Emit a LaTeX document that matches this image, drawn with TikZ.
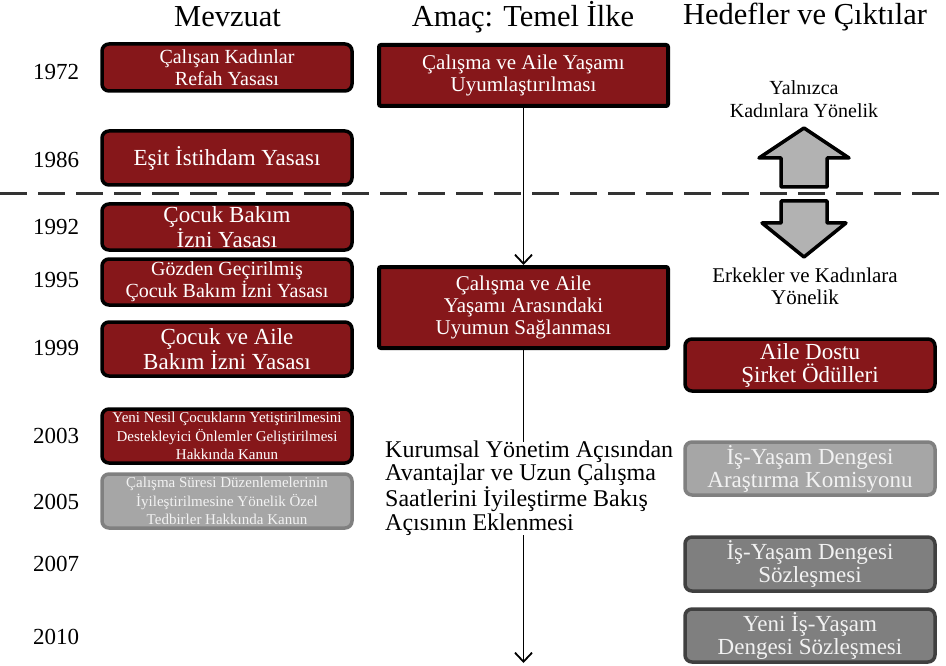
\documentclass[tikz,border=0pt]{standalone}
\usepackage{fontspec}
\setmainfont{Liberation Serif}
\usetikzlibrary{arrows.meta}
\definecolor{boxred}{RGB}{134,23,26}
\definecolor{lgfill}{RGB}{166,166,166}
\definecolor{lgdraw}{RGB}{128,128,128}
\definecolor{dgfill}{RGB}{127,127,127}
\definecolor{dgdraw}{RGB}{64,64,64}
\definecolor{arrfill}{RGB}{178,178,178}
\tikzset{
  redbox/.style={draw=black, line width=3.5pt, fill=boxred, rounded corners=7pt, text=white, align=center, inner sep=0pt},
  lgbox/.style={draw=lgdraw, line width=3.5pt, fill=lgfill, rounded corners=7pt, text=white!95!black, align=center, inner sep=0pt},
  dgbox/.style={draw=dgdraw, line width=3.5pt, fill=dgfill, rounded corners=7pt, text=white!95!black, align=center, inner sep=0pt},
  midbox/.style={draw=black, line width=4pt, fill=boxred, rounded corners=2pt, text=white, align=center, inner sep=0pt},
  header/.style={font=\fontsize{30.5}{30.5}\selectfont},
  year/.style={font=\fontsize{23}{23}\selectfont},
  flow/.style={line width=1.8pt, -{Straight Barb[length=9pt,width=17pt]}},
  flowplain/.style={line width=1.8pt},
  bigarrow/.style={draw=black, line width=3.5pt, fill=arrfill, line join=round},
  divider/.style={line width=3pt, draw=black!80, dash pattern=on 27pt off 11pt}
}
\begin{document}
\begin{tikzpicture}[x=1pt,y=-1pt]
\useasboundingbox (0,0) rectangle (946,666);

% headers
\node[header] (h1) at (227.5,17) {Mevzuat};
\node[header] (h2) at (523,17) {Amaç: Temel İlke};
\node[header] (h3) at (805,17) {Hedefler ve Çıktılar};

% years
\node[year] (y1) at (56,72) {1972};
\node[year] (y2) at (56,160) {1986};
\node[year] (y3) at (56,227) {1992};
\node[year] (y4) at (56,280) {1995};
\node[year] (y5) at (56,348) {1999};
\node[year] (y6) at (56,436) {2003};
\node[year] (y7) at (56,502) {2005};
\node[year] (y8) at (56,564) {2007};
\node[year] (y9) at (56,637) {2010};

% divider
\coordinate (dl) at (0,194);
\coordinate (dr) at (946,194);
\draw[divider] (dl) -- (dr);

% left boxes
\node[redbox, minimum width=250, minimum height=47, font=\fontsize{20}{22}\selectfont] (l1) at (227,67.5) {Çalışan Kadınlar\\Refah Yasası};
\node[redbox, minimum width=250, minimum height=54, font=\fontsize{23}{23}\selectfont] (l2) at (227,158) {Eşit İstihdam Yasası};
\node[redbox, minimum width=250, minimum height=46, font=\fontsize{23}{23}\selectfont] (l3) at (227,227) {Çocuk Bakım\\İzni Yasası};
\node[redbox, minimum width=250, minimum height=46, font=\fontsize{20}{22}\selectfont] (l4) at (227,282) {Gözden Geçirilmiş\\Çocuk Bakım İzni Yasası};
\node[redbox, minimum width=250, minimum height=54, font=\fontsize{23}{23}\selectfont] (l5) at (227,349) {Çocuk ve Aile\\Bakım İzni Yasası};
\node[redbox, minimum width=250, minimum height=54, font=\fontsize{15}{18.5}\selectfont] (l6) at (227,436) {Yeni Nesil Çocukların Yetiştirilmesini\\Destekleyici Önlemler Geliştirilmesi\\Hakkında Kanun};
\node[lgbox, minimum width=250, minimum height=54, font=\fontsize{15}{18.5}\selectfont] (l7) at (227,501) {Çalışma Süresi Düzenlemelerinin\\İyileştirilmesine Yönelik Özel\\Tedbirler Hakkında Kanun};

% middle column
\node[midbox, minimum width=289, minimum height=61, font=\fontsize{21}{21.5}\selectfont] (mA) at (523.5,75.5) {Çalışma ve Aile Yaşamı\\Uyumlaştırılması};
\node[midbox, minimum width=289, minimum height=81, font=\fontsize{21}{22}\selectfont] (mB) at (523.5,307.5) {Çalışma ve Aile\\Yaşamı Arasındaki\\Uyumun Sağlanması};
\node[anchor=west, align=left, inner sep=0pt, font=\fontsize{24}{23.5}\selectfont] (kt) at (385,488) {Kurumsal Yönetim Açısından\\Avantajlar ve Uzun Çalışma\\Saatlerini İyileştirme Bakış\\Açısının Eklenmesi};
\coordinate (ktt) at (523.5,442);
\coordinate (ktb) at (523.5,535);
\coordinate (mend) at (523.5,663);
\draw[flow] (mA.south) -- (mB.north);
\draw[flowplain] (mB.south) -- (ktt);
\draw[flow] (ktb) -- (mend);

% right column labels and arrows
\node[align=center, font=\fontsize{20}{23}\selectfont] (t1) at (804,99) {Yalnızca\\Kadınlara Yönelik};
\node[align=center, font=\fontsize{21}{22}\selectfont] (t2) at (805,286) {Erkekler ve Kadınlara\\Yönelik};
\draw[bigarrow] (781,187) -- (781,158) -- (759,158) -- (804,128) -- (849,158) -- (827,158) -- (827,187) -- cycle;
\draw[bigarrow] (781,201) -- (827,201) -- (827,223) -- (846,223) -- (804,257) -- (762,223) -- (781,223) -- cycle;

% right boxes
\node[redbox, minimum width=250, minimum height=52, font=\fontsize{23}{23}\selectfont] (r1) at (810,365) {Aile Dostu\\Şirket Ödülleri};
\node[lgbox, minimum width=250, minimum height=53, font=\fontsize{23}{23}\selectfont] (r2) at (810,468.5) {İş-Yaşam Dengesi\\Araştırma Komisyonu};
\node[dgbox, minimum width=250, minimum height=54, font=\fontsize{23}{23}\selectfont] (r3) at (810,564) {İş-Yaşam Dengesi\\Sözleşmesi};
\node[dgbox, minimum width=250, minimum height=53, font=\fontsize{23}{23}\selectfont] (r4) at (810,635.5) {Yeni İş-Yaşam\\Dengesi Sözleşmesi};
\end{tikzpicture}
\end{document}
